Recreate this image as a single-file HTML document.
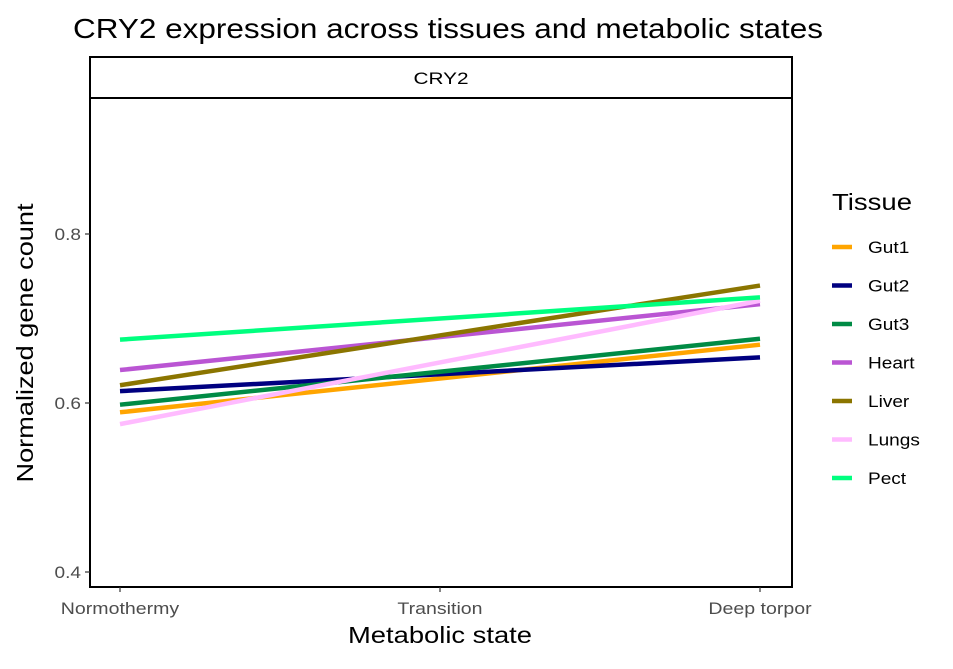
<!DOCTYPE html>
<html><head><meta charset="utf-8"><style>
body{margin:0;background:#fff;font-family:"Liberation Sans",sans-serif}
</style></head><body>
<svg id="chart" width="953" height="664" xmlns="http://www.w3.org/2000/svg" font-family="Liberation Sans, sans-serif">
<text x="73" y="38" font-size="28" fill="#000" textLength="750" lengthAdjust="spacingAndGlyphs">CRY2 expression across tissues and metabolic states</text>
<rect x="90" y="57" width="702" height="41" fill="#fff" stroke="#000" stroke-width="2"/>
<text x="441" y="84" font-size="17" text-anchor="middle" textLength="55" lengthAdjust="spacingAndGlyphs">CRY2</text>
<rect x="90" y="98" width="702" height="489" fill="#fff" stroke="#000" stroke-width="2"/>
<g id="axes"></g>
<g id="lines"></g>
<text x="440" y="643" font-size="23" text-anchor="middle" textLength="184" lengthAdjust="spacingAndGlyphs">Metabolic state</text>
<text transform="translate(33,343) rotate(-90)" font-size="23" text-anchor="middle" textLength="279" lengthAdjust="spacingAndGlyphs">Normalized gene count</text>
<text x="832" y="210" font-size="23" textLength="80" lengthAdjust="spacingAndGlyphs">Tissue</text>
<g id="legend"></g>
</svg>
<script>
const categories=["Normothermy","Transition","Deep torpor"];
const yTicks=[0.4,0.6,0.8];
const tissues=["Gut1","Gut2","Gut3","Heart","Liver","Lungs","Pect"];
const colors=["#FFA500","#000080","#008B45","#BA55D3","#8B7500","#FFBBFF","#00FF7F"];
const startVals=[0.589,0.614,0.598,0.639,0.621,0.575,0.675];
const endVals=[0.669,0.654,0.676,0.717,0.739,0.721,0.725];
const NS="http://www.w3.org/2000/svg";
function xs(i){return 120+i*320;}
function ys(v){return 403-(v-0.6)*845;}
const axes=document.getElementById('axes');
function mk(t,a,p){const e=document.createElementNS(NS,t);for(const k in a)e.setAttribute(k,a[k]);p.appendChild(e);return e;}
function stretch(t,f){const w=t.getComputedTextLength();t.setAttribute('textLength',w*f);t.setAttribute('lengthAdjust','spacingAndGlyphs');}
yTicks.forEach(v=>{
 const l=mk('line',{x1:85,x2:90,y1:ys(v),y2:ys(v),stroke:'#333','stroke-width':1.2},axes);
 
 
 const t=mk('text',{x:81,y:ys(v)+6,'font-size':17,fill:'#4d4d4d','text-anchor':'end'},axes);t.textContent=v.toFixed(1);
 
 
 stretch(t,1.12);
});
categories.forEach((c,i)=>{
 const l=mk('line',{x1:xs(i),x2:xs(i),y1:587,y2:592,stroke:'#333','stroke-width':1.2},axes);
 
 
 const t=mk('text',{x:xs(i),y:614,'font-size':17,fill:'#4d4d4d','text-anchor':'middle'},axes);t.textContent=c;
 
 
 stretch(t,1.15);
});
const lines=document.getElementById('lines');
const leg=document.getElementById('legend');
tissues.forEach((n,i)=>{
 const l=mk('line',{x1:xs(0),y1:ys(startVals[i]),x2:xs(2),y2:ys(endVals[i]),stroke:colors[i],'stroke-width':4.5},lines);
 
 
 const y=247+i*38.5;
 const k=mk('line',{x1:832,x2:852,y1:y,y2:y,stroke:colors[i],'stroke-width':4.5},leg);
 
 
 const t=mk('text',{x:868,y:y+6,'font-size':17},leg);t.textContent=n;
 
 
 stretch(t,1.12);
});
</script>
</body></html>
